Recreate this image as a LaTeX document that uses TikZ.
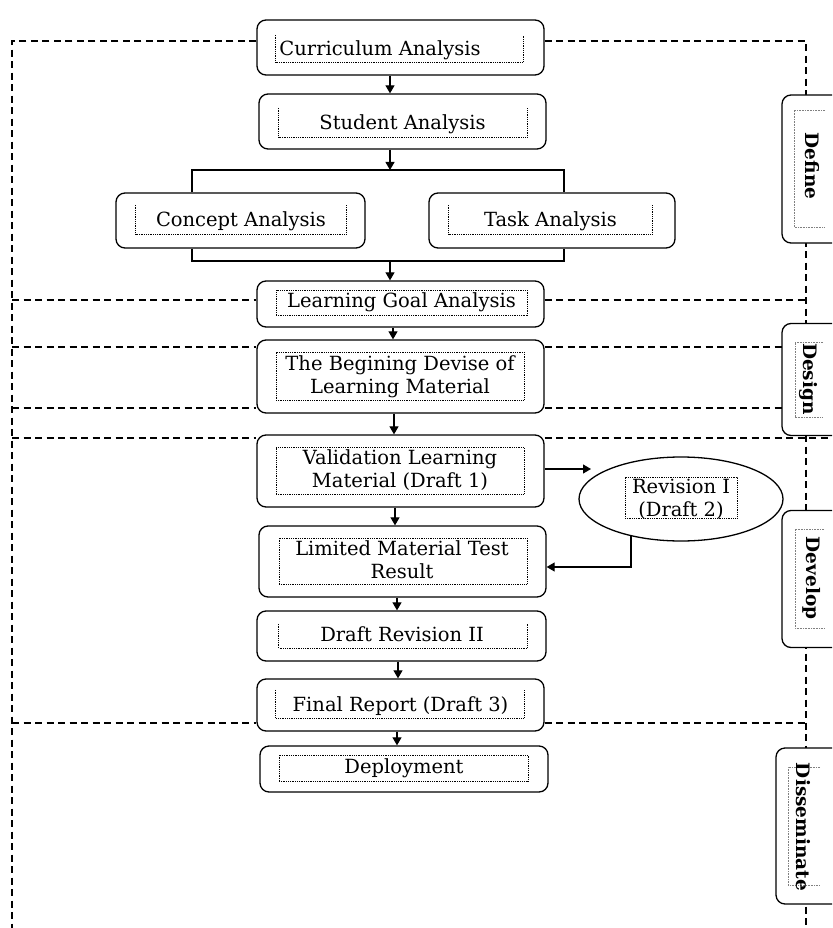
\documentclass[tikz,border=0pt]{standalone}
\usepackage{fontspec}
\setmainfont{DejaVu Serif}
\usetikzlibrary{arrows.meta,shapes.geometric}
\begin{document}
\begin{tikzpicture}[x=1pt,y=-1pt,
  outer/.style={draw, line width=1.3pt, rounded corners=9pt, fill=white, inner sep=0pt},
  txt/.style={font=\fontsize{19.5}{23}\selectfont, align=center, inner sep=0pt},
  frm/.style={inner sep=0pt},
  frmfull/.style={inner sep=0pt, draw, dotl},
  dotl/.style={line width=0.9pt, dash pattern=on 0.9pt off 0.9pt},
  dashl/.style={line width=1.2pt, dash pattern=on 7pt off 4.5pt},
  arr/.style={line width=1.1pt, -{Triangle[width=9pt,length=8pt]}},
  conn/.style={line width=1.1pt},
  lab/.style={draw, line width=1.3pt, rounded corners=9pt, fill=white, inner sep=0pt, minimum width=70pt},
  labtxt/.style={font=\fontsize{18.5}{20}\selectfont\bfseries, rotate=-90, inner sep=0pt},
  gdot/.style={gray, line width=0.8pt, dash pattern=on 0.8pt off 0.8pt}
]
\useasboundingbox (0,0) rectangle (832,928);
\clip (0,0) rectangle (832,928);

% ---------- coordinates ----------
\coordinate (L41) at (12,41);
\coordinate (R41) at (806,41);
\coordinate (Lbot) at (12,928);
\coordinate (Rbot) at (806,928);
\coordinate (L300) at (12,300);
\coordinate (R300) at (806,300);
\coordinate (L347) at (12,347);
\coordinate (R347) at (806,347);
\coordinate (L408) at (12,408);
\coordinate (R408) at (806,408);
\coordinate (L438) at (12,438);
\coordinate (R438) at (832,438);
\coordinate (L723) at (12,723);
\coordinate (R723) at (806,723);

% ---------- main boxes ----------
\node[outer, minimum width=287pt, minimum height=55pt] (cur) at (400.5,47.5) {};
\node[outer, minimum width=287pt, minimum height=55pt] (stu) at (402.5,121.5) {};
\node[outer, minimum width=249pt, minimum height=55pt] (con) at (240.5,220.5) {};
\node[outer, minimum width=246pt, minimum height=55pt] (tsk) at (552,220.5) {};
\node[outer, minimum width=287pt, minimum height=46pt] (lga) at (400.5,304) {};
\node[outer, minimum width=287pt, minimum height=73pt] (des) at (400.5,376.5) {};
\node[outer, minimum width=287pt, minimum height=72pt] (val) at (400.5,471) {};
\node[outer, minimum width=287pt, minimum height=71pt] (lim) at (402.5,561.5) {};
\node[outer, minimum width=289pt, minimum height=50pt] (dr2) at (401.5,636) {};
\node[outer, minimum width=287pt, minimum height=52pt] (fin) at (400.5,705) {};
\node[outer, minimum width=288pt, minimum height=46pt] (dep) at (404,769) {};
\node[draw, ellipse, line width=1.3pt, fill=white, inner sep=0pt, minimum width=204pt, minimum height=84pt] (rev) at (681,499) {};

% ---------- dashed phase lines ----------
\draw[dashl] (cur.west |- L41) -- (L41) -- (Lbot);
\draw[dashl] (cur.east |- R41) -- (R41) -- (Rbot);
\draw[dashl] (L300) -- (lga.west |- L300);
\draw[dashl] (lga.east |- R300) -- (R300);
\draw[dashl] (L347) -- (des.west |- L347);
\draw[dashl] (des.east |- R347) -- (R347);
\draw[dashl] (L408) -- (des.west |- L408);
\draw[dashl] (des.east |- R408) -- (R408);
\draw[dashl] (L438) -- (val.west |- L438);
\draw[dashl] (val.east |- R438) -- (R438);
\draw[dashl] (L723) -- (fin.west |- L723);
\draw[dashl] (fin.east |- R723) -- (R723);

% ---------- inner dotted frames ----------
\node[frm, minimum width=247pt, minimum height=27pt] (fcur) at (399.5,48.5) {};
\node[frm, minimum width=248pt, minimum height=29pt] (fstu) at (403,122.5) {};
\node[frm, minimum width=210pt, minimum height=29pt] (fcon) at (241,219.5) {};
\node[frm, minimum width=203pt, minimum height=29pt] (ftsk) at (550.5,219.5) {};
\node[frmfull, minimum width=251pt, minimum height=25pt] (flga) at (401.5,302.5) {};
\node[frmfull, minimum width=248pt, minimum height=48pt] (fdes) at (400,376) {};
\node[frmfull, minimum width=248pt, minimum height=47pt] (fval) at (400,470.5) {};
\node[frmfull, minimum width=248pt, minimum height=46pt] (flim) at (403,561) {};
\node[frm, minimum width=248pt, minimum height=24pt] (fdr2) at (403,636) {};
\node[frm, minimum width=248pt, minimum height=28pt] (ffin) at (400,704) {};
\node[frmfull, minimum width=249pt, minimum height=26pt] (fdep) at (403.5,768) {};
\node[frmfull, minimum width=112pt, minimum height=41pt] (frev) at (681,497.5) {};
\foreach \f in {fcur,fstu,fcon,ftsk,fdr2,ffin}{
  \draw[dotl] (\f.north west) -- (\f.south west) -- (\f.south east) -- (\f.north east);
}

% ---------- texts ----------
\node[txt] (tcur) at (380,50) {Curriculum Analysis};
\node[txt] (tstu) at (402.5,124) {Student Analysis};
\node[txt] (tcon) at (241,221) {Concept Analysis};
\node[txt] (ttsk) at (550.5,221) {Task Analysis};
\node[txt] (tlga) at (401.5,302) {Learning Goal Analysis};
\node[txt] (tdes) at (400,377) {The Begining Devise of\\Learning Material};
\node[txt] (tval) at (400,470) {Validation Learning\\Material (Draft 1)};
\node[txt] (tlim) at (402,560) {Limited Material Test\\Result};
\node[txt] (tdr2) at (402,634) {Draft Revision II};
\node[txt] (tfin) at (400.5,706) {Final Report (Draft 3)};
\node[txt] (tdep) at (404,768) {Deployment};
\node[txt] (trev) at (681,499) {Revision I\\(Draft 2)};

% ---------- connectors ----------
\coordinate (x390) at (390,0);
\coordinate (x393) at (393,0);
\coordinate (x394) at (394,0);
\coordinate (x395) at (395,0);
\coordinate (x397) at (397,0);
\coordinate (x398) at (398,0);
\coordinate (bTL) at (192,170);
\coordinate (bTR) at (564,170);
\coordinate (bBL) at (192,261);
\coordinate (bBR) at (564,261);

\draw[arr] (x390 |- cur.south) -- (x390 |- stu.north);
\draw[arr] (x390 |- stu.south) -- (x390 |- bTL);
\draw[conn] (bTL |- con.north) -- (bTL) -- (bTR) -- (bTR |- tsk.north);
\draw[conn] (bBL |- con.south) -- (bBL) -- (bBR) -- (bBR |- tsk.south);
\draw[arr] (x390 |- bBL) -- (x390 |- lga.north);
\draw[arr] (x393 |- lga.south) -- (x393 |- des.north);
\draw[arr] (x394 |- des.south) -- (x394 |- val.north);
\draw[arr] (x395 |- val.south) -- (x395 |- lim.north);
\draw[arr] (x397 |- lim.south) -- (x397 |- dr2.north);
\draw[arr] (x398 |- dr2.south) -- (x398 |- fin.north);
\draw[arr] (x397 |- fin.south) -- (x397 |- dep.north);

\coordinate (ah) at (591,469);
\draw[arr] (val.east |- ah) -- (ah);
\coordinate (rs) at (631,536);
\coordinate (rb) at (631,567);
\draw[arr] (rs) -- (rb) -- (lim.east |- rb);

% ---------- phase labels ----------
\node[lab, minimum height=148pt] (lDef) at (817,169) {};
\node[lab, minimum height=112pt] (lDes) at (817,379.5) {};
\node[lab, minimum height=137pt] (lDev) at (817,579) {};
\node[lab, minimum height=156pt] (lDis) at (811,826) {};

\draw[gdot] (825,110) -- (794,110) -- (794,227) -- (825,227);
\draw[gdot] (823,342) -- (795,342) -- (795,417) -- (823,417);
\draw[gdot] (824,529) -- (795,529) -- (795,628) -- (824,628);
\draw[gdot] (820,767) -- (788,767) -- (788,885) -- (820,885);

\node[labtxt] (tDef) at (812,166) {Define};
\node[labtxt] (tDes) at (808,379) {Design};
\node[labtxt] (tDev) at (812,578) {Develop};
\node[labtxt] (tDis) at (803,827) {Disseminate};
\end{tikzpicture}
\end{document}
